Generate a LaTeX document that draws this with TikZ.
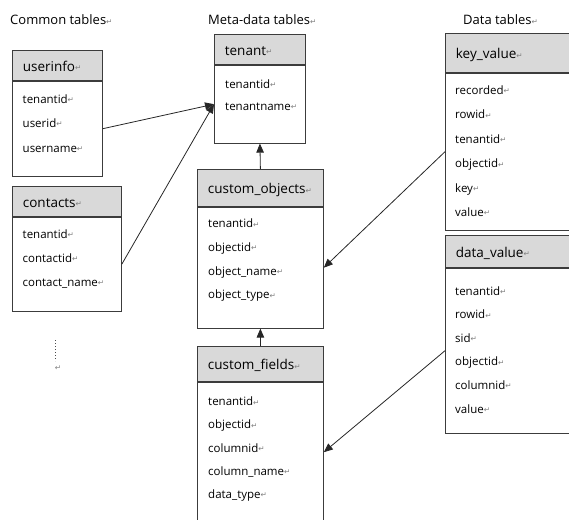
\documentclass[tikz,border=0pt]{standalone}
\usepackage{fontspec}
\setmainfont{Open Sans}
\newfontfamily\symfont{DejaVu Sans}
\usetikzlibrary{arrows.meta, positioning, calc}
\definecolor{hdrgray}{HTML}{D9D9D9}
\definecolor{boxline}{HTML}{3C3C3C}
\newcommand{\retmark}{{\symfont\fontsize{7.5}{7.5}\selectfont\textcolor{black!50}{\raisebox{0.6pt}{↵}}}}

\begin{document}
\begin{tikzpicture}[x=1pt, y=-1pt,
    every node/.style={font=\fontsize{11.5}{13}\selectfont},
    title/.style={anchor=west, inner sep=0pt, font=\fontsize{13}{15}\selectfont},
    hdr/.style={draw=boxline, line width=0.8pt, fill=hdrgray, anchor=north west, inner xsep=10.5pt, inner ysep=0pt, align=left, text height=12pt, text depth=0pt, font=\fontsize{13.5}{15}\selectfont},
    tbl/.style={draw=boxline, line width=0.8pt, fill=white, anchor=north, inner sep=0pt},
    fld/.style={anchor=west, inner sep=0pt, text height=8pt, text depth=2pt},
    conn/.style={draw=black!85, line width=0.8pt, -{Triangle[length=9pt,width=7.5pt]}}
]
\useasboundingbox (0,0) rectangle (569,519);
\clip (0,0) rectangle (569,519);
% Group titles
\node[title] (common) at (10,20) {Common tables\retmark};
\node[title] (meta) at (208,20) {Meta-data tables\retmark};
\node[title] (data) at (463,20) {Data tables\retmark};
% Common tables
\node[hdr, text width=69pt, minimum height=30pt] (userinfo) at (12,50) {userinfo\retmark};
\node[tbl, minimum width=90pt, minimum height=95pt] (userinfo-b) at (userinfo.south) {};
\foreach \f [count=\i] in {tenantid,userid,username}
  \node[fld] (userinfo-\i) at (22.5, 75.5+24.5*\i) {\f\retmark};
\node[hdr, text width=88pt, minimum height=30pt] (contacts) at (12,186) {contacts\retmark};
\node[tbl, minimum width=109pt, minimum height=94pt] (contacts-b) at (contacts.south) {};
\foreach \f [count=\i] in {tenantid,contactid,contact\_name}
  \node[fld] (contacts-\i) at (22.5, 211+24*\i) {\f\retmark};
\draw[dotted, line width=1pt, black!70] (55,340) -- (55,361);
\node[inner sep=0pt] (more) at (58,368) {\retmark};
% Meta-data tables
\node[hdr, text width=70pt, minimum height=30pt] (tenant) at (214,34) {tenant\retmark};
\node[tbl, minimum width=91pt, minimum height=78pt] (tenant-b) at (tenant.south) {};
\foreach \f [count=\i] in {tenantid,tenantname}
  \node[fld] (tenant-\i) at (225, 62.5+22.5*\i) {\f\retmark};
\node[hdr, text width=105pt, minimum height=37pt] (objects) at (197,169) {custom\_objects\retmark};
\node[tbl, minimum width=126pt, minimum height=121pt] (objects-b) at (objects.south) {};
\foreach \f [count=\i] in {tenantid,objectid,object\_name,object\_type}
  \node[fld] (objects-\i) at (208, 201+23.7*\i) {\f\retmark};
\node[hdr, text width=105pt, minimum height=35pt] (fields) at (197,346) {custom\_fields\retmark};
\node[tbl, minimum width=126pt, minimum height=140pt] (fields-b) at (fields.south) {};
\foreach \f [count=\i] in {tenantid,objectid,columnid,column\_name,data\_type}
  \node[fld] (fields-\i) at (208, 379.5+23.2*\i) {\f\retmark};
% Data tables
\node[hdr, text width=119pt, minimum height=39pt] (keyval) at (445,33) {key\_value\retmark};
\node[tbl, minimum width=140pt, minimum height=157pt] (keyval-b) at (keyval.south) {};
\foreach \f [count=\i] in {recorded,rowid,tenantid,objectid,key,value}
  \node[fld] (keyval-\i) at (455, 67+24.4*\i) {\f\retmark};
\node[hdr, text width=119pt, minimum height=32pt] (dataval) at (445,235) {data\_value\retmark};
\node[tbl, minimum width=140pt, minimum height=165pt] (dataval-b) at (dataval.south) {};
\foreach \f [count=\i] in {tenantid,rowid,sid,objectid,columnid,value}
  \node[fld] (dataval-\i) at (455, 268.5+23.6*\i) {\f\retmark};
% References
\draw[conn] (userinfo-b.east) -- (tenant-b.west);
\draw[conn] (contacts-b.east) -- (tenant-b.west);
\draw[conn] (objects.north) -- (tenant-b.south);
\draw[conn] (fields.north) -- (objects-b.south);
\draw[conn] (keyval-b.west) -- (objects-b.east);
\draw[conn] (dataval-b.west) -- (fields-b.east);
\end{tikzpicture}
\end{document}
